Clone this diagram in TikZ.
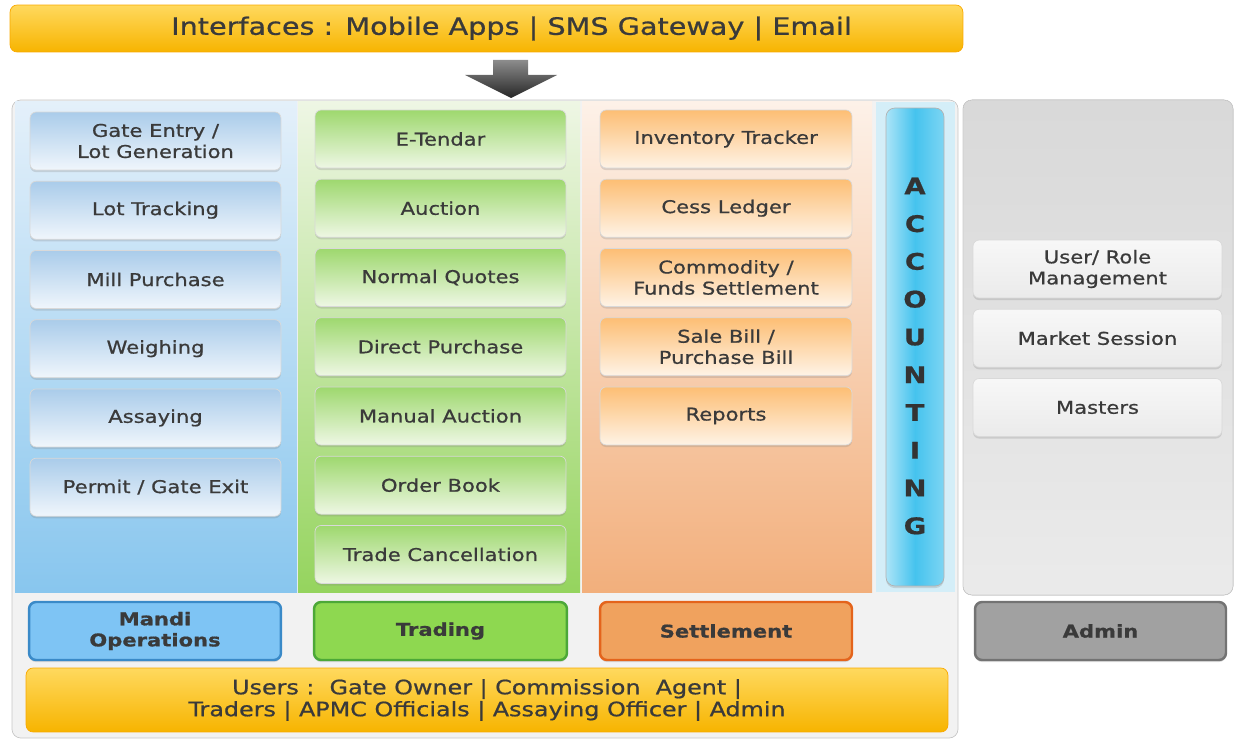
\documentclass[tikz,border=0pt]{standalone}
\usepackage{fontspec}
\setmainfont[FakeStretch=1.2,FakeBold=0.8]{DejaVu Sans}
\usepackage{xcolor}
\usepackage{tikz}
\usetikzlibrary{shadows}
\definecolor{txtgray}{HTML}{3A3A3A}
\definecolor{sunlight}{HTML}{FFD95E}
\definecolor{sundark}{HTML}{F7B400}
\definecolor{mandilight}{HTML}{E4F0FA}
\definecolor{mandidark}{HTML}{88C6EE}
\definecolor{tradelight}{HTML}{EEF6E4}
\definecolor{tradedark}{HTML}{95D45E}
\definecolor{settlelight}{HTML}{FDF1E8}
\definecolor{settledark}{HTML}{F2AF7C}
\definecolor{accbg}{HTML}{D4EEF8}
\definecolor{accbar}{HTML}{45C3EE}
\tikzstyle{box} = [rectangle, rounded corners=3.5pt, minimum height=1.16cm, text centered, align=center, text=txtgray, font=\fontsize{10}{12}\selectfont, drop shadow={opacity=0.25, shadow xshift=0pt, shadow yshift=-1.2pt}]
\tikzstyle{mandi} = [box, minimum width=5.02cm, draw=black!15, top color={rgb,255:red,170;green,204;blue,234}, bottom color={rgb,255:red,240;green,246;blue,252}]
\tikzstyle{trade} = [box, minimum width=5.02cm, draw=black!15, top color={rgb,255:red,158;green,216;blue,110}, bottom color={rgb,255:red,238;green,247;blue,228}]
\tikzstyle{settle} = [box, minimum width=5.04cm, draw=black!15, top color={rgb,255:red,253;green,190;blue,116}, bottom color={rgb,255:red,254;green,243;blue,230}]
\tikzstyle{adminbox} = [box, minimum width=4.98cm, draw=black!15, top color=black!3, bottom color=black!8]
\tikzstyle{category} = [rectangle, rounded corners=4pt, minimum height=1.16cm, text centered, align=center, text=txtgray, line width=1.4pt, font=\bfseries\fontsize{10}{12}\selectfont, drop shadow={opacity=0.25, shadow xshift=0pt, shadow yshift=-1.2pt}]
\tikzstyle{banner} = [rectangle, rounded corners=4pt, text centered, align=center, text=txtgray, draw=sundark!80!orange, top color=sunlight, bottom color=sundark]

\begin{document}
\begin{tikzpicture}[x=0.02cm, y=-0.02cm, node distance=1.385cm]
\useasboundingbox (0,0) rectangle (1235,740);

% background panels
\filldraw[fill=black!5, draw=black!22, rounded corners=5pt] (12,100) rectangle (958,738);
\filldraw[top color=black!15, bottom color=black!8, draw=black!20, rounded corners=5pt] (963,100) rectangle (1233,595);
\shade[top color=mandilight, bottom color=mandidark] (15,102) rectangle (297,592);
\shade[top color=tradelight, bottom color=tradedark] (298,102) rectangle (580,592);
\shade[top color=settlelight, bottom color=settledark] (582,102) rectangle (872,592);
\fill[accbg] (876,102) rectangle (955,592);

% interfaces and flow arrow
\node (iface) [banner, minimum width=19.06cm, minimum height=0.94cm, font=\fontsize{13.6}{14}\selectfont] at (486.5,28.5) {\hspace*{1cm}Interfaces : Mobile Apps | SMS Gateway | Email};
\shade[top color=black!45, bottom color=black!85] (493,60) -- (528,60) -- (528,75) -- (557,75) -- (511,98) -- (465,75) -- (493,75) -- cycle;

% mandi operations column
\node (gate) [mandi] at (155.5,141) {Gate Entry /\\Lot Generation};
\node (lot) [mandi, below of=gate] {Lot Tracking};
\node (mill) [mandi, below of=lot] {Mill Purchase};
\node (weigh) [mandi, below of=mill] {Weighing};
\node (assay) [mandi, below of=weigh] {Assaying};
\node (permit) [mandi, below of=assay] {Permit / Gate Exit};

% trading column
\node (etender) [trade] at (440.5,139) {E-Tendar};
\node (auction) [trade, below of=etender] {Auction};
\node (quotes) [trade, below of=auction] {Normal Quotes};
\node (direct) [trade, below of=quotes] {Direct Purchase};
\node (manual) [trade, below of=direct] {Manual Auction};
\node (order) [trade, below of=manual] {Order Book};
\node (cancel) [trade, below of=order] {Trade Cancellation};

% settlement column
\node (inventory) [settle] at (726,139) {Inventory Tracker};
\node (cess) [settle, below of=inventory] {Cess Ledger};
\node (funds) [settle, below of=cess] {Commodity /\\Funds Settlement};
\node (bill) [settle, below of=funds] {Sale Bill /\\Purchase Bill};
\node (reports) [settle, below of=bill] {Reports};

% accounting bar
\node (accounting) [rectangle, rounded corners=5pt, minimum width=1.16cm, minimum height=9.56cm, draw=black!30, left color=accbar!45!white, right color=accbar!70!white, middle color=accbar, drop shadow={opacity=0.25, shadow xshift=0pt, shadow yshift=-1.2pt}] at (915,347) {};
\node (acctext) [align=center, text=black!80, font=\bfseries\fontsize{13}{21.5}\selectfont] at (915,356) {A\\C\\C\\O\\U\\N\\T\\I\\N\\G};

% admin column
\node (role) [adminbox] at (1097.5,269) {User/ Role\\Management};
\node (session) [adminbox, below of=role] {Market Session};
\node (masters) [adminbox, below of=session] {Masters};

% category labels
\node (cmandi) [category, minimum width=5.04cm, draw={rgb,255:red,58;green,138;blue,200}, fill={rgb,255:red,126;green,196;blue,244}] at (155,631) {Mandi\\Operations};
\node (ctrade) [category, minimum width=5.06cm, draw={rgb,255:red,76;green,168;blue,56}, fill={rgb,255:red,142;green,216;blue,80}] at (440.5,631) {Trading};
\node (csettle) [category, minimum width=5.04cm, draw={rgb,255:red,228;green,100;blue,28}, fill={rgb,255:red,240;green,162;blue,94}] at (726,631) {Settlement};
\node (cadmin) [category, minimum width=5.02cm, draw=black!55, fill=black!37] at (1100.5,631) {Admin};

% users
\node (users) [banner, minimum width=18.44cm, minimum height=1.28cm, font=\fontsize{11.3}{12.5}\selectfont] at (487,700) {Users :\ \ Gate Owner | Commission\ \ Agent |\\Traders | APMC Officials | Assaying Officer | Admin};

\end{tikzpicture}
\end{document}
